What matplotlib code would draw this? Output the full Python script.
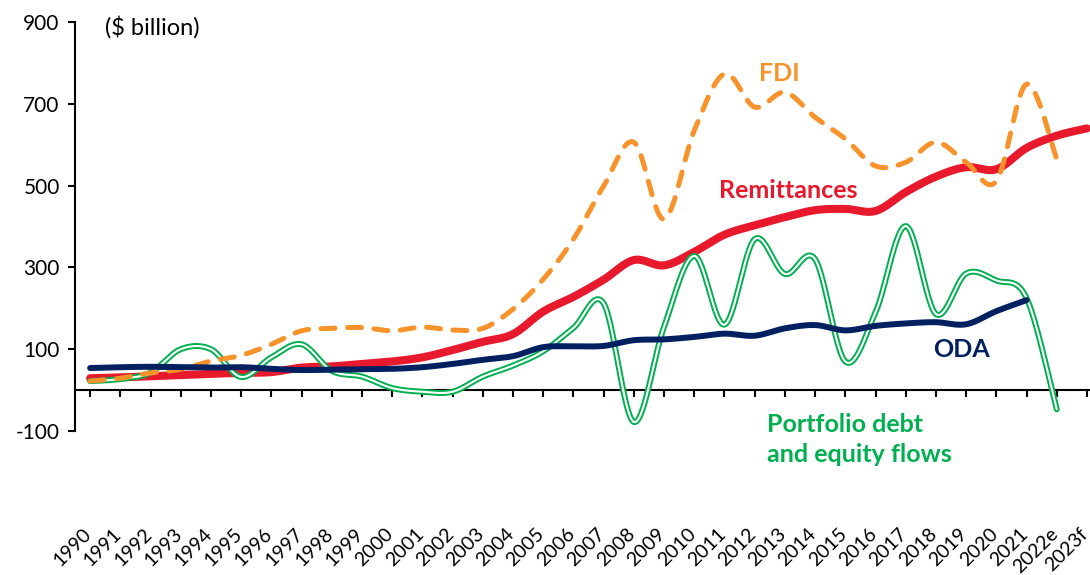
import numpy as np
import matplotlib
matplotlib.use("Agg")
import matplotlib.pyplot as plt

plt.rcParams['font.family'] = ['Lato', 'DejaVu Sans']
plt.rcParams['axes.unicode_minus'] = False

years = [str(y) for y in range(1990, 2022)] + ["2022e", "2023f"]

remittances = [29, 31, 34, 37, 40, 42, 44, 55, 58, 64, 70, 80, 98, 118, 137, 192,
               228, 270, 318, 305, 338, 380, 403, 423, 440, 443, 438, 484, 522,
               545, 540, 592, 622, 640]
fdi = [22, 29, 42, 51, 71, 85, 112, 145, 151, 153, 145, 154, 147, 151, 198, 271,
       369, 499, 606, 418, 635, 773, 692, 728, 667, 614, 548, 557, 606, 557,
       511, 748, 565]
oda = [54, 56, 57, 56, 55, 56, 52, 49, 50, 51, 52, 56, 64, 74, 83, 105, 107, 108,
       122, 124, 130, 138, 133, 151, 159, 146, 157, 163, 166, 161, 193, 220]
portfolio = [22, 27, 43, 100, 100, 32, 80, 112, 47, 33, 5, -4, -4, 33, 60, 95,
             152, 212, -78, 155, 328, 160, 369, 284, 320, 70, 190, 401, 186, 285,
             268, 225, -47]

RED = "#E8192C"
ORANGE = "#F7932A"
NAVY = "#002060"
GREEN = "#00B050"


def smooth(vals, n=30):
    # excel-like smoothed line (catmull-rom as cubic bezier)
    y = np.asarray(vals, dtype=float)
    x = np.arange(len(y), dtype=float)
    px = np.concatenate([[x[0]], x, [x[-1]]])
    py = np.concatenate([[y[0]], y, [y[-1]]])
    t = np.linspace(0, 1, n)[:, None]
    xs, ys = [], []
    for i in range(1, len(px) - 2):
        p0 = np.array([px[i - 1], py[i - 1]])
        p1 = np.array([px[i], py[i]])
        p2 = np.array([px[i + 1], py[i + 1]])
        p3 = np.array([px[i + 2], py[i + 2]])
        c1 = p1 + (p2 - p0) / 6
        c2 = p2 - (p3 - p1) / 6
        b = ((1 - t) ** 3) * p1 + 3 * ((1 - t) ** 2) * t * c1 + 3 * (1 - t) * t ** 2 * c2 + t ** 3 * p2
        xs.append(b[:, 0])
        ys.append(b[:, 1])
    return np.concatenate(xs), np.concatenate(ys)


fig = plt.figure(figsize=(10.9, 5.75), dpi=100)
ax = fig.add_axes([75 / 1090, 1 - 431 / 575, 1015 / 1090, 409 / 575])

xr, yr = smooth(remittances)
ax.plot(xr, yr, color=RED, lw=5.8, solid_capstyle='round', zorder=2)

xp, yp = smooth(portfolio)
ax.plot(xp, yp, color=GREEN, lw=4.3, solid_capstyle='round', zorder=3)
ax.plot(xp, yp, color="white", lw=1.5, solid_capstyle='round', zorder=3.1)

xf, yf = smooth(fdi)
ax.plot(xf, yf, color=ORANGE, lw=3.6, dashes=(2.8, 2.5), dash_capstyle='round', zorder=4)

xo, yo = smooth(oda)
ax.plot(xo, yo, color=NAVY, lw=4.3, solid_capstyle='round', zorder=5)

ax.set_xlim(-0.5, 33.1)
ax.set_ylim(-100, 900)
ax.set_yticks([-100, 100, 300, 500, 700, 900])
ax.set_xticks(range(len(years)))
ax.tick_params(axis='y', direction='out', length=5, width=1.5, labelsize=15, pad=6)
ax.tick_params(axis='x', direction='out', length=5, width=1.5, labelbottom=False)

for s in ['top', 'right']:
    ax.spines[s].set_visible(False)
ax.spines['left'].set_linewidth(1.5)
ax.spines['bottom'].set_position(('data', 0))
ax.spines['bottom'].set_linewidth(1.5)

for i, lab in enumerate(years):
    ax.text(i - 0.05, -0.245, lab, transform=ax.get_xaxis_transform(), rotation=45,
            rotation_mode='anchor', ha='right', va='center', fontsize=14, clip_on=False)

ax.text(0.49, 887, "(\\$ billion)", fontsize=17, ha='left', va='center')
ax.text(22.8, 773, "FDI", color=ORANGE, fontsize=18, fontweight='bold', ha='center', va='center')
ax.text(23.1, 487, "Remittances", color=RED, fontsize=18, fontweight='bold', ha='center', va='center')
ax.text(28.85, 100, "ODA", color=NAVY, fontsize=18, fontweight='bold', ha='center', va='center')
ax.text(22.4, -121, "Portfolio debt\nand equity flows", color=GREEN, fontsize=18,
        fontweight='bold', ha='left', va='center', linespacing=1.35)

fig.savefig("out.png", dpi=100)
